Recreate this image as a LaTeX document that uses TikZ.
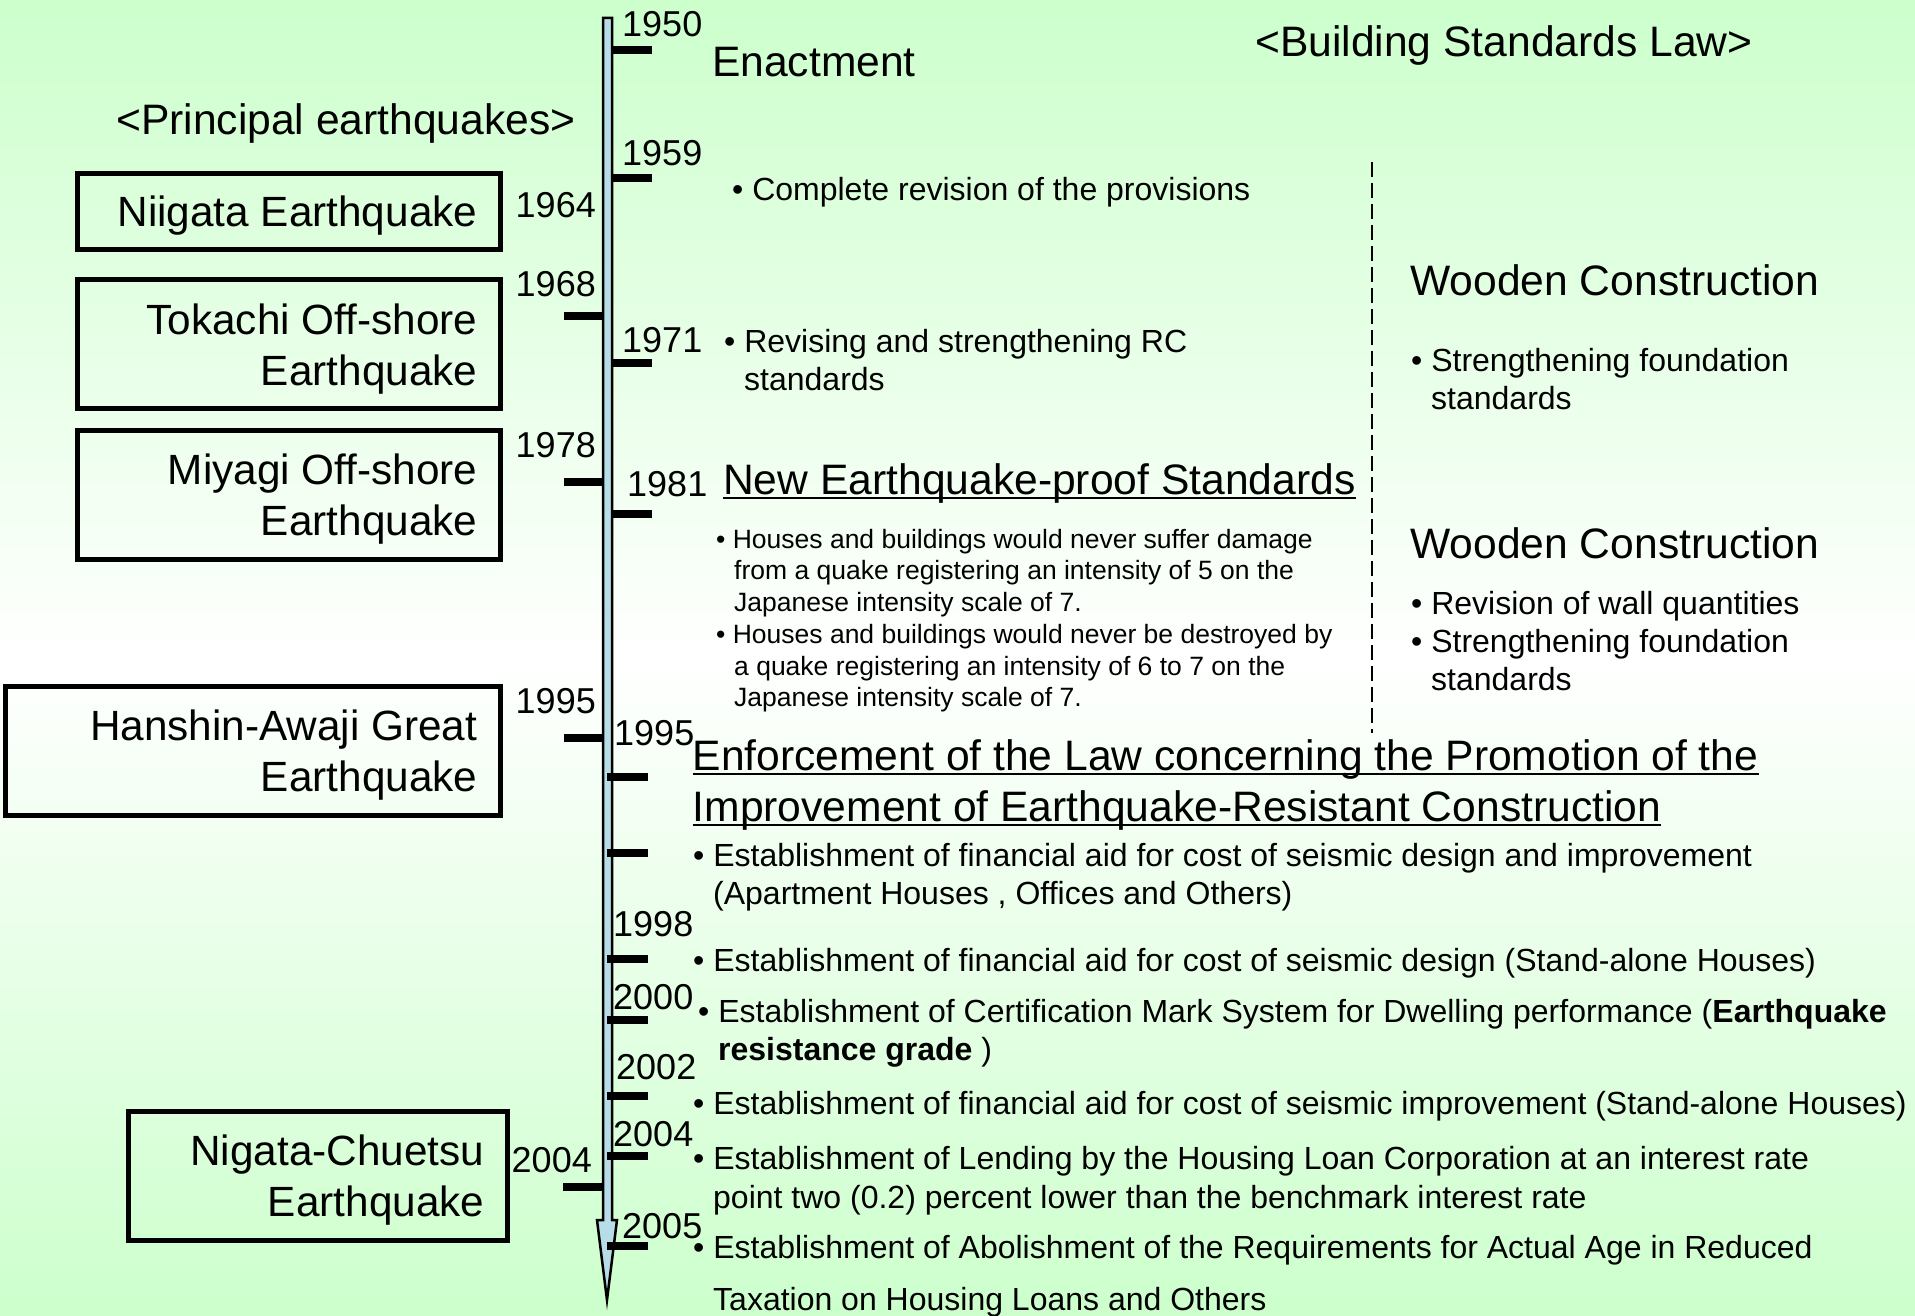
\documentclass[tikz,border=0pt]{standalone}
\usepackage{fontspec}
\setmainfont{Liberation Sans}
\begin{document}
\begin{tikzpicture}[x=1pt,y=-1pt]
\definecolor{bgg}{RGB}{204,255,204}
\definecolor{axisblue}{RGB}{183,221,232}
\tikzset{
  lbl/.style={anchor=base west, inner sep=0pt},
  lble/.style={anchor=base east, inner sep=0pt},
  fbig/.style={font=\fontsize{42.6}{50}\selectfont},
  fmid/.style={font=\fontsize{32}{38}\selectfont},
  fsml/.style={font=\fontsize{26.5}{32}\selectfont},
  fyr/.style={font=\fontsize{36}{42}\selectfont},
  ebox/.style={draw=black, line width=5pt, inner sep=0pt},
  etext/.style={anchor=east, inner sep=0pt, align=right, font=\fontsize{42.3}{51}\selectfont},
  tick/.style={line width=8pt, black},
  uline/.style={line width=2.5pt, black}
}
\useasboundingbox (0,0) rectangle (1915,1316);
\shade[top color=bgg, bottom color=bgg, middle color=white] (0,0) rectangle (1915,1316);

% axis
\draw[fill=axisblue, line width=2.5pt, line join=miter]
  (603,18) -- (612,18) -- (612,1220) -- (617,1220) -- (607,1300) -- (597,1220) -- (603,1220) -- cycle;

% right ticks
\foreach \yy in {50,178,363,514}{\draw[tick] (612,\yy) -- (652,\yy);}
\foreach \yy in {777,853,959,1020,1096,1156,1246}{\draw[tick] (607,\yy) -- (648,\yy);}
% left ticks
\foreach \yy in {316,482,738}{\draw[tick] (564,\yy) -- (604,\yy);}
\draw[tick] (563,1187) -- (602,1187);

% dashed separator
\draw[line width=2pt, dash pattern=on 15pt off 6pt] (1372,162) -- (1372,733);

% titles
\node[lbl, fbig] (tlaw) at (1255,57) {<Building Standards Law>};
\node[lbl, fbig] (tenact) at (712,77) {Enactment};
\node[lbl, fbig] (teq) at (116,135) {<Principal earthquakes>};

% years right
\node[lbl, fyr] (y1950) at (622,37) {1950};
\node[lbl, fyr] (y1959) at (622,166) {1959};
\node[lbl, fyr] (y1971) at (622,352) {1971};
\node[lbl, fyr] (y1981) at (627,496) {1981};
\node[lbl, fyr] (y1995r) at (614,745) {1995};
\node[lbl, fyr] (y1998) at (613,936) {1998};
\node[lbl, fyr] (y2000) at (613,1009) {2000};
\node[lbl, fyr] (y2002) at (616,1079) {2002};
\node[lbl, fyr] (y2004r) at (613,1146) {2004};
\node[lbl, fyr] (y2005) at (622,1238) {2005};
% years left
\node[lble, fyr] (y1964) at (596,218) {1964};
\node[lble, fyr] (y1968) at (596,296) {1968};
\node[lble, fyr] (y1978) at (596,457) {1978};
\node[lble, fyr] (y1995l) at (596,713) {1995};
\node[lble, fyr] (y2004l) at (592,1172) {2004};

% earthquake boxes
\node[ebox, minimum width=423pt, minimum height=76pt] (bniigata) at (288.5,212) {};
\node[etext] (tniigata) at ([xshift=-25pt,yshift=-4pt]bniigata.east) {Niigata Earthquake};
\node[ebox, minimum width=423pt, minimum height=128pt] (btokachi) at (288.5,344) {};
\node[etext] (ttokachi) at ([xshift=-25pt,yshift=-5pt]btokachi.east) {Tokachi Off-shore\\Earthquake};
\node[ebox, minimum width=423pt, minimum height=129pt] (bmiyagi) at (288.5,494.5) {};
\node[etext] (tmiyagi) at ([xshift=-25pt,yshift=-5pt]bmiyagi.east) {Miyagi Off-shore\\Earthquake};
\node[ebox, minimum width=495pt, minimum height=129pt] (bhanshin) at (252.5,750.5) {};
\node[etext] (thanshin) at ([xshift=-25pt,yshift=-5pt]bhanshin.east) {Hanshin-Awaji Great\\Earthquake};
\node[ebox, minimum width=379pt, minimum height=129pt] (bchuetsu) at (317.5,1175.5) {};
\node[etext] (tchuetsu) at ([xshift=-25pt,yshift=-5pt]bchuetsu.east) {Nigata-Chuetsu\\Earthquake};

% law column upper
\node[lbl, fmid] (l59) at (732,200.5) {• Complete revision of the provisions};
\node[lbl, fmid] (l71a) at (724,352.5) {• Revising and strengthening RC};
\node[lbl, fmid] (l71b) at (744,390.5) {standards};
\node[lbl, fbig] (l81) at (723,494) {New Earthquake-proof Standards};
\draw[uline] ([yshift=-4pt]l81.base west) -- ([yshift=-4pt]l81.base east);
\node[lbl, fsml] (s1) at (716,548.5) {• Houses and buildings would never suffer damage};
\node[lbl, fsml] (s2) at (734,579.5) {from a quake registering an intensity of 5 on the};
\node[lbl, fsml] (s3) at (734,611.5) {Japanese intensity scale of 7.};
\node[lbl, fsml] (s4) at (716,643.5) {• Houses and buildings would never be destroyed by};
\node[lbl, fsml] (s5) at (734,675.5) {a quake registering an intensity of 6 to 7 on the};
\node[lbl, fsml] (s6) at (734,706.5) {Japanese intensity scale of 7.};

% right column
\node[lbl, fbig] (w1) at (1410,295) {Wooden Construction};
\node[lbl, fmid] (w1a) at (1411,371.5) {• Strengthening foundation};
\node[lbl, fmid] (w1b) at (1431,409.5) {standards};
\node[lbl, fbig] (w2) at (1410,558) {Wooden Construction};
\node[lbl, fmid] (w2a) at (1411,614.5) {• Revision of wall quantities};
\node[lbl, fmid] (w2b) at (1411,652.5) {• Strengthening foundation};
\node[lbl, fmid] (w2c) at (1431,690.5) {standards};

% lower section
\node[lbl, fbig] (e1) at (692.5,770) {Enforcement of the Law concerning the Promotion of the};
\draw[uline] ([yshift=-4pt]e1.base west) -- ([yshift=-4pt]e1.base east);
\node[lbl, fbig] (e2) at (692.5,821) {Improvement of Earthquake-Resistant Construction};
\draw[uline] ([yshift=-4pt]e2.base west) -- ([yshift=-4pt]e2.base east);

\node[lbl, fmid] (p1a) at (693,866.5) {• Establishment of financial aid for cost of seismic design and improvement};
\node[lbl, fmid] (p1b) at (713,904.5) {(Apartment Houses , Offices and Others)};
\node[lbl, fmid] (p2) at (693,971.5) {• Establishment of financial aid for cost of seismic design (Stand-alone Houses)};
\node[lbl, fmid] (p3a) at (698,1022.5) {• Establishment of Certification Mark System for Dwelling performance (\textbf{Earthquake}};
\node[lbl, fmid] (p3b) at (718,1060.5) {\textbf{resistance grade} )};
\node[lbl, fmid] (p4) at (693,1114.5) {• Establishment of financial aid for cost of seismic improvement (Stand-alone Houses)};
\node[lbl, fmid] (p5a) at (693,1169.5) {• Establishment of Lending by the Housing Loan Corporation at an interest rate};
\node[lbl, fmid] (p5b) at (713,1208.5) {point two (0.2) percent lower than the benchmark interest rate};
\node[lbl, fmid] (p6a) at (693,1258.5) {• Establishment of Abolishment of the Requirements for Actual Age in Reduced};
\node[lbl, fmid] (p6b) at (713,1310.5) {Taxation on Housing Loans and Others};
\end{tikzpicture}
\end{document}
